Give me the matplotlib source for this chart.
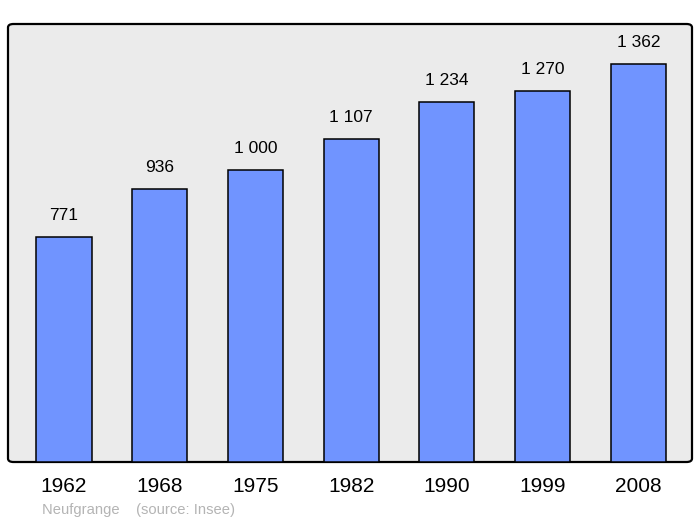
import matplotlib.pyplot as plt
from matplotlib.patches import FancyBboxPatch

# Population data (Insee)
years = ['1962', '1968', '1975', '1982', '1990', '1999', '2008']
population = [771, 936, 1000, 1107, 1234, 1270, 1362]

bar_color = '#7094ff'
panel_color = '#ebebeb'

plt.rcParams['font.family'] = ['Liberation Sans', 'DejaVu Sans']

fig = plt.figure(figsize=(7, 5.23), dpi=100)
ax = fig.add_axes([8 / 700, 61 / 523, 684 / 700, 438 / 523])

# rounded gray panel behind the bars
ax.patch.set_visible(False)
for s in ax.spines.values():
    s.set_visible(False)
panel = FancyBboxPatch((0, 0), 1, 1, boxstyle='round,pad=0,rounding_size=0.008',
                       transform=ax.transAxes, facecolor=panel_color,
                       edgecolor='black', linewidth=1.6, clip_on=False, zorder=0)
ax.add_patch(panel)

x = range(len(years))
ax.bar(x, population, width=0.575, color=bar_color, edgecolor='black',
       linewidth=1.1, zorder=2)

for i, v in enumerate(population):
    ax.annotate(f'{v:,}'.replace(',', ' '), (i, v), xytext=(0, 15.5),
                textcoords='offset points', ha='center', va='center',
                fontsize=12.5, color='black')

ax.set_xlim(-0.585, 6.56)
ax.set_ylim(0, 1500)
ax.set_xticks(list(x))
ax.set_xticklabels(years, fontsize=15)
ax.tick_params(axis='x', length=0, pad=11)
ax.set_yticks([])

fig.text(42 / 700, 1 - 510 / 523, 'Neufgrange    (source: Insee)',
         fontsize=10.6, color='#b4b4b4', ha='left', va='center')

fig.savefig('out.png', dpi=100)
